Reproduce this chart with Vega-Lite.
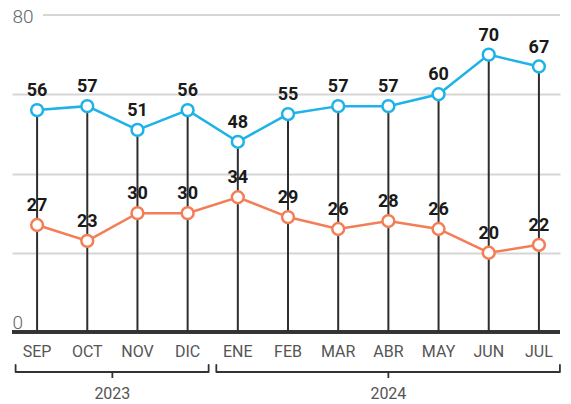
{
  "$schema": "https://vega.github.io/schema/vega-lite/v6.json",
  "width": 548,
  "height": 317,
  "autosize": {"type": "none"},
  "padding": {"left": 12, "top": 15, "right": 11, "bottom": 72},
  "background": "white",
  "config": {"view": {"stroke": null}},
  "data": {
    "values": [
      {"i": 0, "mes": "SEP", "anio": "2023", "serieA": 56, "serieB": 27},
      {"i": 1, "mes": "OCT", "anio": "2023", "serieA": 57, "serieB": 23},
      {"i": 2, "mes": "NOV", "anio": "2023", "serieA": 51, "serieB": 30},
      {"i": 3, "mes": "DIC", "anio": "2023", "serieA": 56, "serieB": 30},
      {"i": 4, "mes": "ENE", "anio": "2024", "serieA": 48, "serieB": 34},
      {"i": 5, "mes": "FEB", "anio": "2024", "serieA": 55, "serieB": 29},
      {"i": 6, "mes": "MAR", "anio": "2024", "serieA": 57, "serieB": 26},
      {"i": 7, "mes": "ABR", "anio": "2024", "serieA": 57, "serieB": 28},
      {"i": 8, "mes": "MAY", "anio": "2024", "serieA": 60, "serieB": 26},
      {"i": 9, "mes": "JUN", "anio": "2024", "serieA": 70, "serieB": 20},
      {"i": 10, "mes": "JUL", "anio": "2024", "serieA": 67, "serieB": 22}
    ]
  },
  "encoding": {
    "x": {"field": "i", "type": "quantitative", "scale": {"domain": [-0.5, 10.42], "nice": false, "zero": false}, "axis": null}
  },
  "layer": [
    {
      "mark": {"type": "rule", "color": "#d6d6d6", "strokeWidth": 2},
      "encoding": {
        "x": {"datum": 0.12},
        "x2": {"datum": 10.42},
        "y": {"datum": 80, "type": "quantitative", "scale": {"domain": [0, 80], "nice": false},
          "axis": {
            "values": [0, 20, 40, 60, 80],
            "domain": false,
            "ticks": false,
            "grid": true,
            "gridColor": "#d6d6d6",
            "gridWidth": 2,
            "gridOpacity": {"condition": {"test": "datum.value == 20 || datum.value == 40 || datum.value == 60", "value": 1}, "value": 0},
            "labelExpr": "datum.value == 0 || datum.value == 80 ? datum.label : ''",
            "labelAlign": "left",
            "labelPadding": 0,
            "labelBaseline": "middle",
            "labelOffset": {"condition": {"test": "datum.value == 0", "value": -10}, "value": 1},
            "labelFont": "Roboto",
            "labelFontWeight": 300,
            "labelFontSize": 19,
            "labelColor": "#666666",
            "title": null
          }
        }
      }
    },
    {
      "mark": {"type": "rule", "color": "#2e2e2e", "strokeWidth": 2},
      "encoding": {
        "y": {"field": "serieA", "type": "quantitative"},
        "y2": {"datum": 0}
      }
    },
    {
      "mark": {"type": "rule", "color": "#333333", "strokeWidth": 2.5},
      "encoding": {
        "x": {"datum": -0.5},
        "x2": {"datum": 10.42},
        "y": {"datum": 0}
      }
    },
    {
      "transform": [{"fold": ["serieA", "serieB"], "as": ["serie", "valor"]}],
      "layer": [
        {
          "mark": {"type": "line", "strokeWidth": 2.5},
          "encoding": {
            "y": {"field": "valor", "type": "quantitative"},
            "color": {"field": "serie", "type": "nominal", "scale": {"domain": ["serieA", "serieB"], "range": ["#1DB3E8", "#F47D56"]}, "legend": null}
          }
        },
        {
          "mark": {"type": "point", "shape": "circle", "filled": true, "fill": "white", "size": 140, "strokeWidth": 2.5, "opacity": 1},
          "encoding": {
            "y": {"field": "valor", "type": "quantitative"},
            "stroke": {"field": "serie", "type": "nominal", "scale": {"domain": ["serieA", "serieB"], "range": ["#1DB3E8", "#F47D56"]}, "legend": null}
          }
        },
        {
          "mark": {"type": "text", "font": "Roboto", "fontWeight": "bold", "fontSize": 18, "color": "#1a1a1a", "baseline": "bottom", "dy": -10},
          "encoding": {
            "y": {"field": "valor", "type": "quantitative"},
            "text": {"field": "valor", "type": "quantitative"}
          }
        }
      ]
    },
    {
      "mark": {"type": "text", "font": "Roboto", "fontWeight": "normal", "fontSize": 16, "color": "#555555", "baseline": "middle", "yOffset": 20},
      "encoding": {
        "y": {"datum": 0},
        "text": {"field": "mes", "type": "nominal"}
      }
    },
    {
      "transform": [{"aggregate": [{"op": "min", "field": "i", "as": "ini"}, {"op": "max", "field": "i", "as": "fin"}, {"op": "mean", "field": "i", "as": "medio"}], "groupby": ["anio"]}],
      "layer": [
        {
          "mark": {"type": "rule", "color": "#333333", "strokeWidth": 1.8, "xOffset": -21.5, "x2Offset": 21, "yOffset": 40},
          "encoding": {
            "x": {"field": "ini", "type": "quantitative"},
            "x2": {"field": "fin"},
            "y": {"datum": 0}
          }
        },
        {
          "mark": {"type": "rule", "color": "#333333", "strokeWidth": 1.8, "strokeCap": "round", "xOffset": -21.5, "yOffset": 33, "y2Offset": 40},
          "encoding": {
            "x": {"field": "ini", "type": "quantitative"},
            "y": {"datum": 0},
            "y2": {"datum": 0}
          }
        },
        {
          "mark": {"type": "rule", "color": "#333333", "strokeWidth": 1.8, "strokeCap": "round", "xOffset": 21, "yOffset": 33, "y2Offset": 40},
          "encoding": {
            "x": {"field": "fin", "type": "quantitative"},
            "y": {"datum": 0},
            "y2": {"datum": 0}
          }
        },
        {
          "mark": {"type": "rule", "color": "#333333", "strokeWidth": 1.8, "yOffset": 40, "y2Offset": 46},
          "encoding": {
            "x": {"field": "medio", "type": "quantitative"},
            "y": {"datum": 0},
            "y2": {"datum": 0}
          }
        },
        {
          "mark": {"type": "text", "font": "Roboto", "fontWeight": "normal", "fontSize": 16, "color": "#555555", "baseline": "middle", "yOffset": 62},
          "encoding": {
            "x": {"field": "medio", "type": "quantitative"},
            "y": {"datum": 0},
            "text": {"field": "anio", "type": "nominal"}
          }
        }
      ]
    }
  ]
}
